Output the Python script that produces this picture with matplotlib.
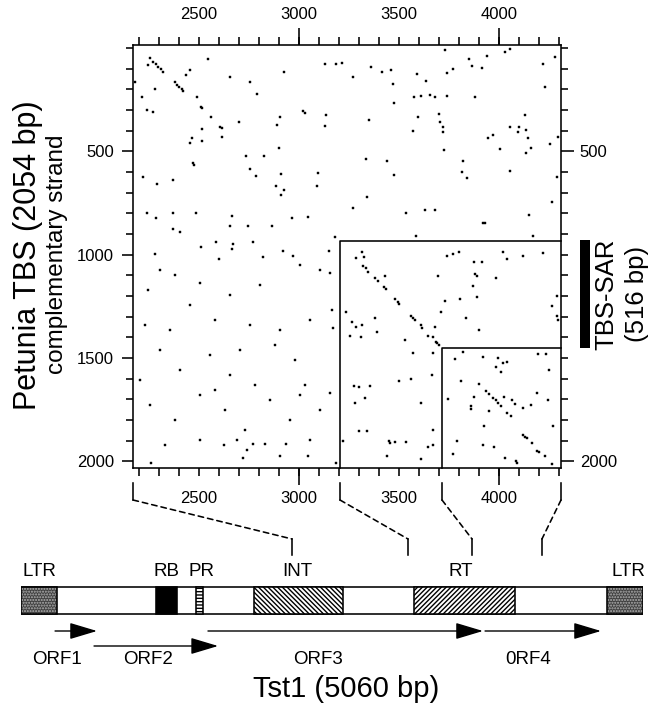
import matplotlib
matplotlib.use("Agg")
import matplotlib.pyplot as plt
import matplotlib.transforms as mtransforms
from matplotlib.patches import Rectangle, ConnectionPatch
from matplotlib.ticker import MultipleLocator

plt.rcParams['font.family'] = ['Liberation Sans', 'DejaVu Sans']
plt.rcParams['hatch.linewidth'] = 1.0

# dot plot: Tst1 position (bp) vs Petunia TBS complementary strand position (bp)
x_range = (2170, 4310)
y_range = (2033, -15)
x_label_ticks = [2500, 3000, 3500, 4000]
x_long_ticks = [3000, 4000]
y_label_ticks = [500, 1000, 1500, 2000]
y_right_ticks = [500, 2000]

box_x = [3205, 3715]      # Tst1 start of the two framed regions
box_y = [934, 1452]       # TBS start of the two framed regions
sar = (930, 1452)         # TBS-SAR on the TBS axis

dots_left = [
    (2255, 47), (2272, 66), (2285, 79), (2297, 90), (2308, 102), (2322, 115),
    (2247, 82), (2180, 166), (2280, 200), (2213, 239), (2380, 166), (2392, 179),
    (2402, 190), (2413, 200), (2422, 208), (2435, 131), (2455, 107), (2547, 53),
    (2492, 239), (2508, 284), (2517, 289), (2558, 336), (2517, 392), (2605, 381),
    (2613, 389), (2613, 429), (2463, 437), (2455, 461), (2513, 450), (2655, 142),
    (2755, 166), (2788, 224), (2702, 357), (2925, 118), (2892, 373), (2905, 336),
    (3018, 305), (3030, 316), (3135, 326), (3132, 378), (3130, 79), (2238, 300),
    (2272, 308), (2735, 523), (2827, 523), (2902, 482), (2468, 558), (2477, 565),
    (2755, 587), (2785, 618), (2910, 610), (2885, 666), (2925, 687), (2910, 710),
    (3093, 607), (3088, 666), (2222, 623), (2288, 658), (2372, 639), (2238, 797),
    (2285, 821), (2368, 797), (2485, 797), (2368, 876), (2405, 892), (2663, 813),
    (2655, 861), (2747, 861), (2863, 861), (2967, 824), (3047, 816), (2585, 940),
    (2672, 950), (2663, 973), (2772, 940), (2510, 965), (2280, 999), (2602, 1021),
    (2822, 1013), (2922, 982), (2968, 1005), (3150, 981),
    (2305, 1074), (2380, 1099), (2245, 1171), (2505, 1137), (2655, 1195),
    (2805, 1147), (3005, 1050), (3105, 1074), (2455, 1244), (2580, 1316),
    (2230, 1340), (2355, 1365), (2755, 1340), (2905, 1365), (3055, 1316),
    (2305, 1462), (2555, 1486), (2705, 1462), (2880, 1437), (2980, 1510),
    (2405, 1558), (2655, 1583), (2205, 1607), (2780, 1631), (3030, 1631),
    (2505, 1679), (2255, 1728), (2855, 1704), (2630, 1752), (2380, 1800),
    (2955, 1800), (3105, 1752), (2730, 1849), (2505, 1897), (2330, 1921),
    (3055, 1897), (3005, 1679), (2580, 1655), (2625, 1921), (2690, 1897),
    (2770, 1917), (2830, 1917), (2935, 1917), (2740, 1946), (2720, 1984),
    (2905, 1975), (3045, 1975), (2260, 2009), (3185, 2009), (3155, 1090),
    (3163, 1268), (3172, 1356), (3155, 1668),
]

dots_upper = [
    (3185, 77), (3217, 71), (3272, 142), (3358, 93), (3413, 114), (3458, 106),
    (3472, 174), (3588, 126), (3635, 161), (3738, 119), (3772, 103), (3850, 53),
    (3863, 87), (3913, 95), (3938, 37), (4030, 21), (4055, 6), (3730, 9),
    (4222, 77), (4282, 45), (4230, 187), (3475, 264), (3577, 238), (3610, 232),
    (3655, 227), (3680, 238), (3738, 232), (3880, 238), (3352, 348), (3597, 335),
    (3702, 319), (3705, 358), (3718, 384), (3722, 405), (3568, 401), (4132, 326),
    (4055, 380), (4100, 384), (4133, 397), (4097, 405), (4143, 435), (3947, 434),
    (3972, 422), (4005, 488), (4158, 485), (4135, 506), (4255, 464), (4297, 429),
    (3727, 493), (3335, 537), (3442, 547), (3475, 613), (3822, 545), (3817, 598),
    (3838, 630), (4055, 595), (4288, 626), (3338, 719), (3268, 776), (3535, 797),
    (3630, 784), (3682, 784), (4263, 743), (4152, 810), (3922, 848), (3932, 845),
    (3585, 910), (4172, 910), (3180, 913),
]

dots_box1 = [
    (3285, 1018), (3317, 989), (3327, 1010), (3322, 1055), (3333, 1066),
    (3347, 1085), (3380, 1111), (3397, 1126), (3427, 1158), (3435, 1166),
    (3480, 1216), (3493, 1227), (3502, 1239), (3558, 1295), (3572, 1308),
    (3580, 1316), (3608, 1343), (3617, 1356), (3643, 1393), (3668, 1397),
    (3685, 1421), (3692, 1429), (3702, 1437),
    (3430, 1103), (3697, 1103), (3738, 1006), (3772, 998), (3802, 987),
    (4022, 989), (4042, 1022), (4118, 1005), (4218, 993), (3877, 1037),
    (3913, 1034), (3880, 1093), (3888, 1103), (3983, 1111), (3868, 1151),
    (3892, 1206), (3805, 1214), (3730, 1224), (3708, 1280), (3835, 1308),
    (3902, 1364), (3682, 1351), (4288, 1198), (4263, 1247), (4288, 1297),
    (4297, 1316), (3233, 1276), (3263, 1324), (3285, 1348), (3317, 1340),
    (3380, 1305), (3392, 1374), (3255, 1393), (3308, 1401), (3530, 1413),
    (3572, 1477), (3668, 1477), (3663, 1582), (3502, 1611), (3560, 1603),
    (3277, 1635), (3302, 1643), (3355, 1638), (3330, 1692), (3280, 1716),
    (3608, 1716), (3302, 1856), (3338, 1853), (3218, 1900), (3450, 1901),
    (3455, 1913), (3480, 1908), (3535, 1905), (3668, 1848), (3668, 1924),
    (3643, 1932), (3442, 1977), (3608, 1989),
]

dots_box2 = [
    (3780, 1506), (3822, 1469), (3918, 1497), (3997, 1502), (4022, 1526),
    (4038, 1518), (3985, 1542), (4008, 1569), (4197, 1482), (4235, 1480),
    (4252, 1558), (3810, 1611), (3902, 1626), (3935, 1660), (3952, 1674),
    (3972, 1692), (3983, 1706), (3997, 1719), (4010, 1732), (4025, 1690),
    (4063, 1706), (4080, 1724), (4118, 1743), (4160, 1730), (4188, 1671),
    (4247, 1706), (3747, 1700), (3875, 1690), (3858, 1732), (3862, 1748),
    (3952, 1755), (4038, 1768), (4058, 1781), (3927, 1829), (4118, 1872),
    (4130, 1884), (4138, 1890), (4163, 1913), (4188, 1953), (4202, 1956),
    (4230, 1977), (4268, 1829), (3788, 1901), (3918, 1921), (3977, 1932),
    (3772, 1964), (4030, 1985), (4085, 1997), (4088, 2010), (4263, 2014),
]

# Tst1 map (bp, 5060 total)
tst1_len = 5060
ltr_spans = [(0, 293), (4767, 5060)]
rb_span = (1098, 1269)
pr_span = (1424, 1481)
int_span = (1895, 2619)
rt_span = (3197, 4019)
gene_labels = ['LTR', 'RB', 'PR', 'INT', 'RT', 'LTR']
gene_label_x = [146, 1180, 1472, 2245, 3579, 4938]
orf_names = ['ORF1', 'ORF2', 'ORF3', '0RF4']
orf_start = [277, 594, 1521, 3775]
orf_end = [618, 1603, 3758, 4718]
orf_row = [0, 1, 0, 0]
orf_label_x = [293, 1037, 2416, 4124]
# where the dot plot range lands on the map
map_targets = [2205, 3148, 3669, 4238]

W, H = 656, 707
fig = plt.figure(figsize=(W / 100, H / 100), dpi=100)

ax = fig.add_axes([133 / W, 1 - 468 / H, 428 / W, 423 / H])
ax.set_xlim(*x_range)
ax.set_ylim(*y_range)

for pts in (dots_left, dots_upper, dots_box1, dots_box2):
    xs, ys = zip(*pts)
    ax.plot(xs, ys, 's', ms=2.1, color='black', mec='black', mew=0.3)

lw = 1.15
for bx, by in zip(box_x, box_y):
    ax.plot([bx, bx, x_range[1]], [y_range[0], by, by], color='black', lw=lw, clip_on=False)

for sp in ax.spines.values():
    sp.set_linewidth(lw)

ax.set_xticks(x_label_ticks)
ax.xaxis.set_minor_locator(MultipleLocator(100))
ax.tick_params(axis='x', which='both', direction='out', top=True, bottom=True,
               labeltop=True, labelbottom=True, length=6, width=lw, pad=10.5,
               labelsize=12)
ax.set_yticks(y_label_ticks)
ax.yaxis.set_minor_locator(MultipleLocator(100))
ax.tick_params(axis='y', which='major', left=True, right=False, length=8,
               width=lw, pad=5.5, labelsize=12)
ax.tick_params(axis='y', which='minor', left=True, right=False, length=5, width=lw)

for side in ('top', 'bottom'):
    sx = ax.secondary_xaxis(side)
    sx.set_xticks(x_long_ticks, labels=['' for _ in x_long_ticks])
    sx.tick_params(length=12.5, width=lw)
    for sp in sx.spines.values():
        sp.set_visible(False)

sy = ax.secondary_yaxis('right')
sy.set_yticks(y_right_ticks)
sy.yaxis.set_minor_locator(MultipleLocator(100))
sy.tick_params(which='major', length=9.5, width=lw, pad=4, labelsize=12)
sy.tick_params(which='minor', length=5, width=lw)
for sp in sy.spines.values():
    sp.set_visible(False)

side_tr = mtransforms.blended_transform_factory(ax.transAxes, ax.transData)
ax.plot([1.056, 1.056], sar, transform=side_tr, color='black', lw=7.2,
        solid_capstyle='butt', clip_on=False)
sar_mid = (sar[0] + sar[1]) / 2
ax.text(1.107, sar_mid, 'TBS-SAR', transform=side_tr, rotation=90,
        ha='center', va='center', fontsize=18.5)
ax.text(1.178, sar_mid, '(516 bp)', transform=side_tr, rotation=90,
        ha='center', va='center', fontsize=18.5)

fig.text(28 / W, 1 - 255 / H, 'Petunia TBS (2054 bp)', rotation=90,
         ha='center', va='center', fontsize=22)
fig.text(57 / W, 1 - 254 / H, 'complementary strand', rotation=90,
         ha='center', va='center', fontsize=17.5)

# map axes: y in pixel rows of the figure for layout
axm = fig.add_axes([21 / W, 0, 622 / W, (H - 470) / H])
axm.set_xlim(0, tst1_len)
axm.set_ylim(H, 470)
axm.axis('off')

bar_top, bar_bot = 587, 614
axm.add_patch(Rectangle((0, bar_top), tst1_len, bar_bot - bar_top,
                        facecolor='white', edgecolor='black', lw=lw))
for a, b in ltr_spans:
    axm.add_patch(Rectangle((a, bar_top), b - a, bar_bot - bar_top,
                            facecolor='0.25', edgecolor='0.7', hatch='......', lw=0))
    axm.add_patch(Rectangle((a, bar_top), b - a, bar_bot - bar_top,
                            fill=False, edgecolor='black', lw=lw))
axm.add_patch(Rectangle((rb_span[0], bar_top), rb_span[1] - rb_span[0],
                        bar_bot - bar_top, facecolor='black', edgecolor='black', lw=lw))
axm.add_patch(Rectangle((pr_span[0], bar_top), pr_span[1] - pr_span[0],
                        bar_bot - bar_top, facecolor='white', edgecolor='black',
                        hatch='-----', lw=lw))
axm.add_patch(Rectangle((int_span[0], bar_top), int_span[1] - int_span[0],
                        bar_bot - bar_top, facecolor='white', edgecolor='black',
                        hatch='\\\\\\\\\\\\\\', lw=lw))
axm.add_patch(Rectangle((rt_span[0], bar_top), rt_span[1] - rt_span[0],
                        bar_bot - bar_top, facecolor='white', edgecolor='black',
                        hatch='///////', lw=lw))

for name, gx in zip(gene_labels, gene_label_x):
    axm.text(gx, 572, name, ha='center', va='center', fontsize=13.5)

row_y = [631, 646]
for name, s, e, r, lx in zip(orf_names, orf_start, orf_end, orf_row, orf_label_x):
    axm.annotate('', xy=(e, row_y[r]), xytext=(s, row_y[r]),
                 arrowprops=dict(arrowstyle='-|>,head_length=1.0,head_width=0.3',
                                 mutation_scale=17, lw=1.0, color='black',
                                 shrinkA=0, shrinkB=0))
    axm.text(lx, 660, name, ha='center', va='center', fontsize=13.5)

axm.text(2644, 689, 'Tst1 (5060 bp)', ha='center', va='center', fontsize=21)

# connectors from the dot plot's Tst1 axis down to the map
plot_edges = [x_range[0], box_x[0], box_x[1], x_range[1]]
up_tr = mtransforms.blended_transform_factory(ax.transData, axm.transData)
for xd, xm in zip(plot_edges, map_targets):
    ax.plot([xd, xd], [483, 500], transform=up_tr, color='black', lw=lw, clip_on=False)
    con = ConnectionPatch(xyA=(xd, 500), coordsA=up_tr, xyB=(xm, 539),
                          coordsB=axm.transData, color='black', lw=lw,
                          linestyle=(0, (3.5, 2.5)))
    fig.add_artist(con)
    axm.plot([xm, xm], [539, 555], color='black', lw=lw, clip_on=False)

fig.savefig('out.png', dpi=100)
